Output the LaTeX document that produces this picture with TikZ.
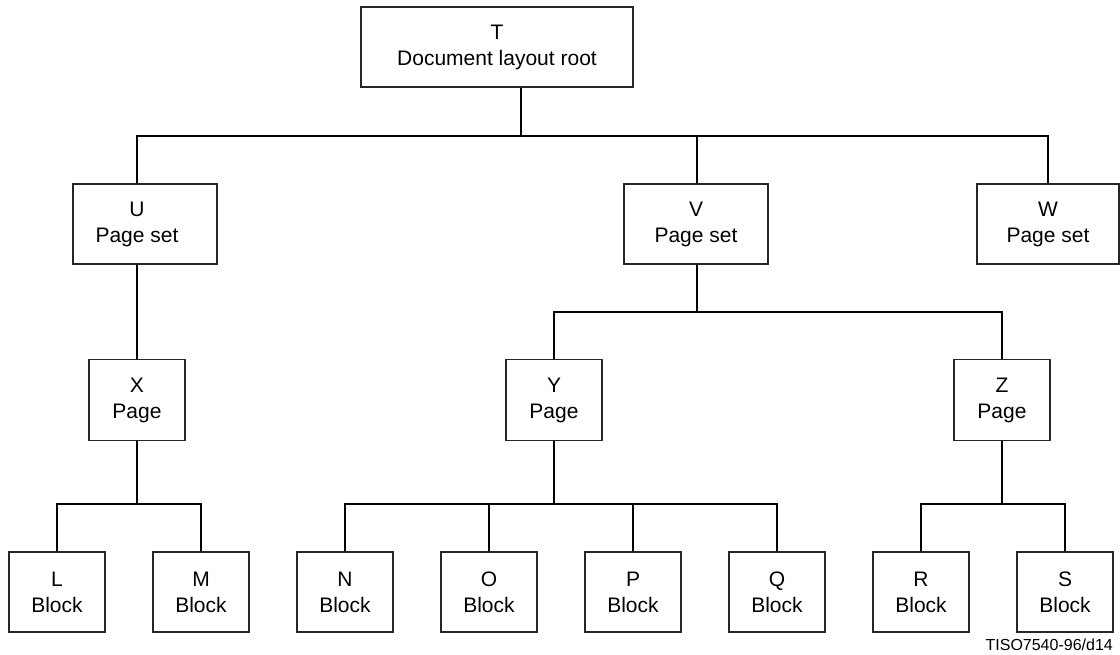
\documentclass[tikz,border=0pt]{standalone}
\usepackage{fontspec}
\setmainfont{Liberation Sans}
\begin{document}
\begin{tikzpicture}[x=1pt,y=-1pt,
  box/.style={draw=black!85, line width=1.2pt, inner sep=0pt, align=center,
    font=\fontsize{21}{26}\selectfont},
  big/.style={box, minimum width=272pt, minimum height=80pt},
  setbox/.style={box, minimum width=144pt, minimum height=80pt},
  pagebox/.style={box, minimum width=96pt, minimum height=81pt},
  blockbox/.style={box, minimum width=96pt, minimum height=80pt},
  conn/.style={line width=2.1pt, draw=black},
  tag/.style={font=\fontsize{16}{19}\selectfont, inner sep=0pt}]
\useasboundingbox (0,0) rectangle (1120,654);

% nodes
\node[big] (T) at (497,47) {T\\Document layout root};
\node[setbox, label={[box,draw=none,xshift=-8pt]center:{U\\Page set}}] (U) at (145,224) {};
\node[setbox] (V) at (696,224) {V\\Page set};
\node[setbox, minimum width=142pt] (W) at (1048,224) {W\\Page set};
\node[pagebox] (X) at (137,400) {X\\Page};
\node[pagebox] (Y) at (554,400) {Y\\Page};
\node[pagebox] (Z) at (1002,400) {Z\\Page};
\node[blockbox] (L) at (57,592) {L\\Block};
\node[blockbox] (M) at (201,592) {M\\Block};
\node[blockbox] (N) at (345,592) {N\\Block};
\node[blockbox] (O) at (489,592) {O\\Block};
\node[blockbox] (P) at (633,592) {P\\Block};
\node[blockbox] (Q) at (777,592) {Q\\Block};
\node[blockbox] (R) at (921,592) {R\\Block};
\node[blockbox] (S) at (1065,592) {S\\Block};
\node[tag, anchor=base east] (fig) at (1113,650) {TISO7540-96/d14};

% bus junctions
\coordinate (b1) at (521,136);
\coordinate (b2) at (697,312);
\coordinate (b3) at (137,504);
\coordinate (b4) at (554,504);
\coordinate (b5) at (1002,504);

% connectors
\draw[conn] ([xshift=24pt]T.south) -- (b1);
\draw[conn] ([xshift=-8pt]U.north) |- (b1) -| (W.north);
\draw[conn] ([xshift=1pt]V.north) -- ([xshift=1pt]V.north |- b1);
\draw[conn] ([xshift=-8pt]U.south) -- (X.north);
\draw[conn] ([xshift=1pt]V.south) -- (b2);
\draw[conn] (Y.north) |- (b2) -| (Z.north);
\draw[conn] (X.south) -- (b3);
\draw[conn] (L.north) |- (b3) -| (M.north);
\draw[conn] (Y.south) -- (b4);
\draw[conn] (N.north) |- (b4) -| (Q.north);
\draw[conn] (O.north) -- (O.north |- b4);
\draw[conn] (P.north) -- (P.north |- b4);
\draw[conn] (Z.south) -- (b5);
\draw[conn] (R.north) |- (b5) -| (S.north);
\end{tikzpicture}
\end{document}
